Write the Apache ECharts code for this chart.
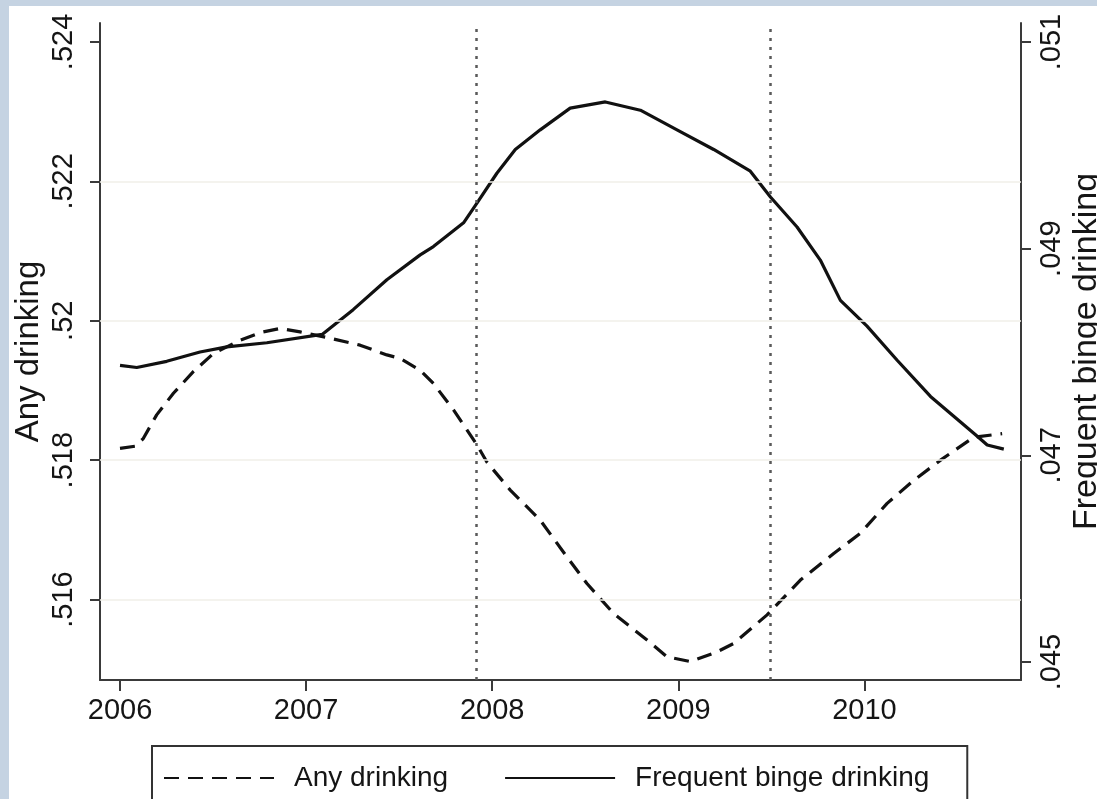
<!DOCTYPE html>
<html><head><meta charset="utf-8">
<script src="https://cdn.jsdelivr.net/npm/echarts@6/dist/echarts.min.js"></script>
<style>
html,body{margin:0;padding:0;background:#c5d3e2;width:1097px;height:799px;overflow:hidden}
#panel{position:absolute;left:9px;top:6px;width:1088px;height:793px;background:#fff}
#chart{position:absolute;left:0;top:0;width:1097px;height:799px}
</style></head><body>
<div id="panel"></div><div id="chart"></div>
<script>
const years = [2006, 2007, 2008, 2009, 2010];
const leftTicks = [0.516, 0.518, 0.52, 0.522, 0.524];
const gridValues = [0.516, 0.518, 0.52, 0.522];
const rightTicks = [0.045, 0.047, 0.049, 0.051];
const refLines = [2007.914, 2009.495];
const seriesNames = ['Any drinking', 'Frequent binge drinking'];

const anyX = [2006.000, 2006.081, 2006.125, 2006.197, 2006.287, 2006.394, 2006.502, 2006.645, 2006.753, 2006.860, 2006.968, 2007.111, 2007.290, 2007.434, 2007.505, 2007.613, 2007.684, 2007.792, 2007.918, 2007.972, 2008.097, 2008.258, 2008.402, 2008.509, 2008.652, 2008.832, 2008.939, 2009.065, 2009.208, 2009.297, 2009.477, 2009.656, 2009.835, 2009.978, 2010.122, 2010.265, 2010.409, 2010.588, 2010.740];
const anyY = [0.51817, 0.51820, 0.51831, 0.51865, 0.51896, 0.51927, 0.51953, 0.51972, 0.51983, 0.51989, 0.51984, 0.51976, 0.51965, 0.51951, 0.51946, 0.51929, 0.51910, 0.51872, 0.51822, 0.51797, 0.51757, 0.51714, 0.51661, 0.51623, 0.51580, 0.51542, 0.51518, 0.51511, 0.51525, 0.51537, 0.51578, 0.51628, 0.51666, 0.51695, 0.51738, 0.51771, 0.51800, 0.51833, 0.51838];

const bingeX = [2006.000, 2006.090, 2006.251, 2006.430, 2006.574, 2006.789, 2007.086, 2007.253, 2007.434, 2007.613, 2007.684, 2007.846, 2007.918, 2008.025, 2008.124, 2008.258, 2008.419, 2008.608, 2008.796, 2008.993, 2009.190, 2009.387, 2009.495, 2009.638, 2009.763, 2009.871, 2010.014, 2010.176, 2010.355, 2010.597, 2010.660, 2010.749];
const bingeY = [0.04787, 0.04785, 0.04791, 0.04800, 0.04805, 0.04809, 0.04817, 0.04841, 0.04870, 0.04894, 0.04902, 0.04925, 0.04944, 0.04973, 0.04996, 0.05015, 0.05036, 0.05042, 0.05034, 0.05015, 0.04996, 0.04975, 0.04950, 0.04921, 0.04889, 0.04850, 0.04825, 0.04792, 0.04757, 0.04720, 0.04710, 0.04706];

const FONT = "'Liberation Sans', Arial, Helvetica, sans-serif";
const TXT = '#151515';
const AXC = '#3a3a3a';
const fmt = v => Number(v).toFixed(3).replace(/^0/, '').replace(/0+$/, '');

const chart = echarts.init(document.getElementById('chart'), null, {renderer: 'canvas'});
chart.setOption({
  animation: false,
  backgroundColor: 'transparent',
  grid: {left: 100, right: 76, top: 23, bottom: 119, containLabel: false, outerBoundsMode: 'none'},
  xAxis: {
    type: 'value', min: 2005.8925, max: 2010.8414,
    axisLine: {show: true, onZero: false, lineStyle: {color: AXC, width: 2}},
    axisTick: {show: true, length: 11, customValues: years, lineStyle: {color: AXC, width: 2}},
    axisLabel: {customValues: years, margin: 16, fontSize: 29, color: TXT, fontFamily: FONT, formatter: v => String(Math.round(v))},
    splitLine: {show: false}
  },
  yAxis: [{
    type: 'value', position: 'left', min: 0.514846, max: 0.524272,
    name: 'Any drinking', nameLocation: 'middle', nameGap: 55, nameRotate: 90, nameMoveOverlap: false,
    nameTextStyle: {fontSize: 33, color: TXT, fontFamily: FONT},
    axisLine: {show: true, onZero: false, lineStyle: {color: AXC, width: 2}},
    axisTick: {show: true, length: 10, customValues: leftTicks, lineStyle: {color: AXC, width: 2}},
    axisLabel: {customValues: leftTicks, rotate: 90, margin: 22, fontSize: 29, color: TXT, fontFamily: FONT, formatter: fmt},
    splitLine: {show: false}
  }, {
    type: 'value', position: 'right', min: 0.044826, max: 0.051184,
    name: 'Frequent binge drinking', nameLocation: 'middle', nameGap: 49, nameRotate: 90, nameMoveOverlap: false,
    nameTextStyle: {fontSize: 34, color: TXT, fontFamily: FONT},
    axisLine: {show: true, onZero: false, lineStyle: {color: AXC, width: 2}},
    axisTick: {show: true, length: 10, customValues: rightTicks, lineStyle: {color: AXC, width: 2}},
    axisLabel: {customValues: rightTicks, rotate: 90, margin: 16, fontSize: 29, color: TXT, fontFamily: FONT, formatter: fmt},
    splitLine: {show: false}
  }],
  legend: {
    data: seriesNames,
    left: 152, top: 746,
    orient: 'horizontal',
    borderColor: '#333', borderWidth: 2, borderRadius: 0,
    padding: [18, 38, 30, 11],
    itemWidth: 110, itemHeight: 14, itemGap: 56,
    itemStyle: {color: 'rgba(0,0,0,0)', borderWidth: 0, opacity: 0},
    textStyle: {fontSize: 28, color: TXT, fontFamily: FONT, padding: [0, 0, 0, 15]},
    selectedMode: false
  },
  series: [{
    name: seriesNames[0], type: 'line', yAxisIndex: 0, xAxisIndex: 0,
    data: anyX.map((x, i) => [x, anyY[i]]),
    showSymbol: false, symbol: 'none', smooth: false, z: 3,
    lineStyle: {color: '#111', width: 3.2, type: [15, 9]},
    itemStyle: {color: '#111'},
    markLine: {
      silent: true, precision: 4, symbol: ['none', 'none'], label: {show: false}, animation: false,
      data: gridValues.map(v => ({yAxis: v, lineStyle: {color: '#f1efe9', width: 1.5, type: 'solid'}}))
        .concat(refLines.map(v => ({xAxis: v, lineStyle: {color: '#5a5a5a', width: 2.5, type: [3, 6]}})))
    }
  }, {
    name: seriesNames[1], type: 'line', yAxisIndex: 1, xAxisIndex: 0,
    data: bingeX.map((x, i) => [x, bingeY[i]]),
    showSymbol: false, symbol: 'none', smooth: false, z: 3,
    lineStyle: {color: '#111', width: 3.2, type: 'solid'},
    itemStyle: {color: '#111'}
  }]
});
</script>
</body></html>
